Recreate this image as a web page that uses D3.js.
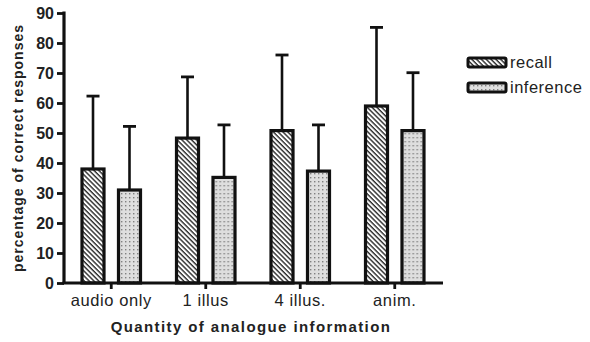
<!DOCTYPE html>
<html><head><meta charset="utf-8">
<script src="https://cdn.jsdelivr.net/npm/d3@7"></script>
<style>
html,body{margin:0;padding:0;background:#fff;}
svg{display:block;font-family:"Liberation Sans",Arial,sans-serif;}
</style></head>
<body>
<svg id="c" width="590" height="342"></svg>
<script>
const categories = ["audio only", "1 illus", "4 illus.", "anim."];
const series = ["recall", "inference"];
const recallMean = [38, 48.3, 50.8, 59];
const recallTop = [62.3, 68.7, 76, 85.2];
const inferenceMean = [31, 35.2, 37.3, 50.8];
const inferenceTop = [52.2, 52.7, 52.7, 70.1];
const yTicks = [0, 10, 20, 30, 40, 50, 60, 70, 80, 90];

const svg = d3.select("#c");
const defs = svg.append("defs");
// hatch pattern (lines running top-left to bottom-right)
const ph = defs.append("pattern").attr("id","hatch").attr("patternUnits","userSpaceOnUse")
  .attr("width",3.4).attr("height",3.4).attr("patternTransform","rotate(45)");
ph.append("rect").attr("width",3.4).attr("height",3.4).attr("fill","#fff");
ph.append("rect").attr("x",0).attr("y",0).attr("width",3.4).attr("height",1.4).attr("fill","#2a2a2a");
// dot pattern
const pd = defs.append("pattern").attr("id","dots").attr("patternUnits","userSpaceOnUse")
  .attr("width",4).attr("height",4);
pd.append("rect").attr("width",4).attr("height",4).attr("fill","#dedede");
pd.append("rect").attr("x",1).attr("y",1).attr("width",1.4).attr("height",1.4).attr("fill","#808080");

const fills = {recall:"url(#hatch)", inference:"url(#dots)"};

const x0 = d3.scaleBand().domain(categories).range([64, 442]).paddingInner(0).paddingOuter(0);
const x1 = d3.scaleBand().domain(series).range([18, 76.5]).paddingInner(0.397).paddingOuter(0);
const y = d3.scaleLinear().domain([0, 90]).range([283, 13]);

const data = categories.map((c,i)=>({cat:c, vals:[
  {s:"recall", v:recallMean[i], top:recallTop[i]},
  {s:"inference", v:inferenceMean[i], top:inferenceTop[i]}]}));

const g = svg.append("g");
const groups = g.selectAll("g.grp").data(data).join("g")
  .attr("transform", d=>`translate(${x0(d.cat)},0)`);

// error bars
groups.selectAll("line.err").data(d=>d.vals).join("line")
  .attr("x1", d=>x1(d.s)+x1.bandwidth()/2).attr("x2", d=>x1(d.s)+x1.bandwidth()/2)
  .attr("y1", d=>y(d.v)).attr("y2", d=>y(d.top))
  .attr("stroke","#111").attr("stroke-width",2.6);
groups.selectAll("line.cap").data(d=>d.vals).join("line")
  .attr("x1", d=>x1(d.s)+x1.bandwidth()/2-6.5).attr("x2", d=>x1(d.s)+x1.bandwidth()/2+6.5)
  .attr("y1", d=>y(d.top)).attr("y2", d=>y(d.top))
  .attr("stroke","#111").attr("stroke-width",2.8);

groups.selectAll("rect").data(d=>d.vals).join("rect")
  .attr("x", d=>x1(d.s)).attr("width", x1.bandwidth())
  .attr("y", d=>y(d.v)).attr("height", d=>y(0)-y(d.v))
  .attr("fill", d=>fills[d.s]).attr("stroke","#111").attr("stroke-width",3.2);

// y axis
const yAxis = d3.axisLeft(y).tickValues(yTicks).tickSize(7).tickPadding(3);
const ya = svg.append("g").attr("transform","translate(64,0)").call(yAxis);
ya.select(".domain").attr("stroke","#111").attr("stroke-width",3.2).attr("d","M0,283V11.5");
ya.selectAll(".tick line").attr("stroke","#111").attr("stroke-width",2.8);
ya.selectAll(".tick text").attr("font-size",16).attr("font-weight","bold").attr("fill","#222")
  .attr("font-family","Liberation Sans, Arial, sans-serif");

// x axis
const xAxis = d3.axisBottom(x0).tickSize(6).tickPadding(5);
const xa = svg.append("g").attr("transform","translate(0,283)").call(xAxis);
xa.select(".domain").attr("stroke","#111").attr("stroke-width",3.2).attr("d","M62.5,0H443");
xa.selectAll(".tick line").attr("stroke","#111").attr("stroke-width",2.8);
xa.selectAll(".tick text").attr("font-size",16.5).attr("fill","#222").attr("letter-spacing","0.6px")
  .attr("font-family","Liberation Sans, Arial, sans-serif");

// titles
svg.append("text").attr("x",251).attr("y",332).attr("text-anchor","middle")
  .attr("font-size",15).attr("font-weight","bold").attr("letter-spacing","1.4px").attr("fill","#222")
  .text("Quantity of analogue information");
svg.append("text").attr("transform","translate(23,148) rotate(-90)").attr("text-anchor","middle")
  .attr("font-size",14).attr("font-weight","bold").attr("letter-spacing","1px").attr("fill","#222")
  .text("percentage of correct responses");

// legend
const leg = svg.append("g");
const ly = d3.scalePoint().domain(series).range([62.5, 87.5]);
leg.selectAll("rect").data(series).join("rect")
  .attr("x",468).attr("y",d=>ly(d)-4.5).attr("width",38).attr("height",9)
  .attr("fill",d=>fills[d]).attr("stroke","#111").attr("stroke-width",3).attr("rx",1.5);
leg.selectAll("text").data(series).join("text")
  .attr("x",510).attr("y",d=>ly(d)+5.5).attr("font-size",16.5).attr("letter-spacing","0.5px").attr("fill","#222")
  .text(d=>d);
</script>
</body></html>
